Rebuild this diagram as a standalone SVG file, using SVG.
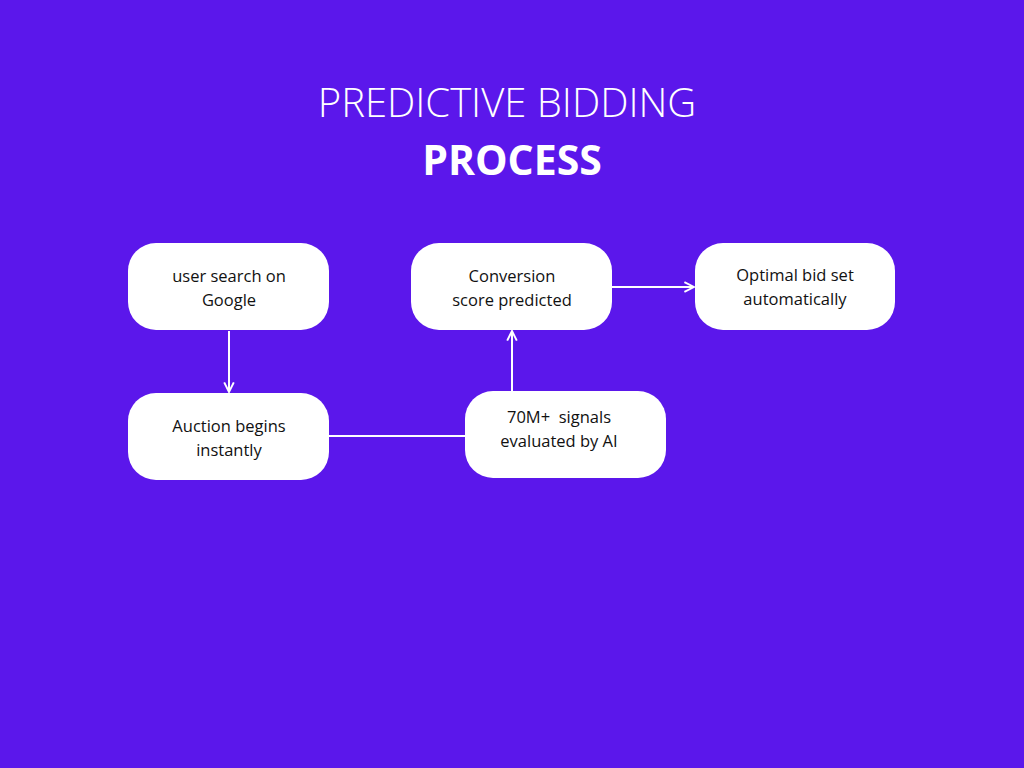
<svg xmlns="http://www.w3.org/2000/svg" width="1024" height="768" viewBox="0 0 1024 768">
<defs>
<style>
.n rect{fill:#fff}
.n text{font-family:"Open Sans","Liberation Sans",sans-serif;font-size:16.5px;fill:#111;text-anchor:middle}
.c line{stroke:#fff;stroke-width:2}
.t{font-family:"Open Sans","Liberation Sans",sans-serif;fill:#fff;text-anchor:middle}
</style>
<marker id="a" viewBox="0 0 10 10" refX="9" refY="5" markerWidth="6" markerHeight="6" orient="auto"><path d="M1,1 L9,5 L1,9" fill="none" stroke="#fff" stroke-width="1.6"/></marker>
</defs>
<rect width="1024" height="768" fill="#5B17EB"/>
<text class="t" x="507" y="117" font-size="40" font-weight="300">PREDICTIVE BIDDING</text>
<text class="t" x="512" y="175" font-size="41" font-weight="700">PROCESS</text>
<g class="c">
<line x1="229" y1="331" x2="229" y2="392" marker-end="url(#a)"/>
<line x1="329" y1="436" x2="466" y2="436"/>
<line x1="512" y1="391" x2="512" y2="331" marker-end="url(#a)"/>
<line x1="612" y1="287" x2="694" y2="287" marker-end="url(#a)"/>
</g>
<g id="n1" class="n"><rect x="128" y="243" width="201" height="87" rx="28"/><text x="229" y="282">user search on</text><text x="229" y="306">Google</text></g>
<g id="n2" class="n"><rect x="128" y="393" width="201" height="87" rx="28"/><text x="229" y="432">Auction begins</text><text x="229" y="456">instantly</text></g>
<g id="n3" class="n"><rect x="411" y="243" width="201" height="87" rx="28"/><text x="512" y="282">Conversion</text><text x="512" y="306">score predicted</text></g>
<g id="n4" class="n"><rect x="695" y="243" width="200" height="87" rx="28"/><text x="795" y="281">Optimal bid set</text><text x="795" y="305">automatically</text></g>
<g id="n5" class="n"><rect x="465" y="391" width="201" height="87" rx="28"/><text x="559" y="423" xml:space="preserve">70M+  signals</text><text x="559" y="447">evaluated by AI</text></g>
</svg>
